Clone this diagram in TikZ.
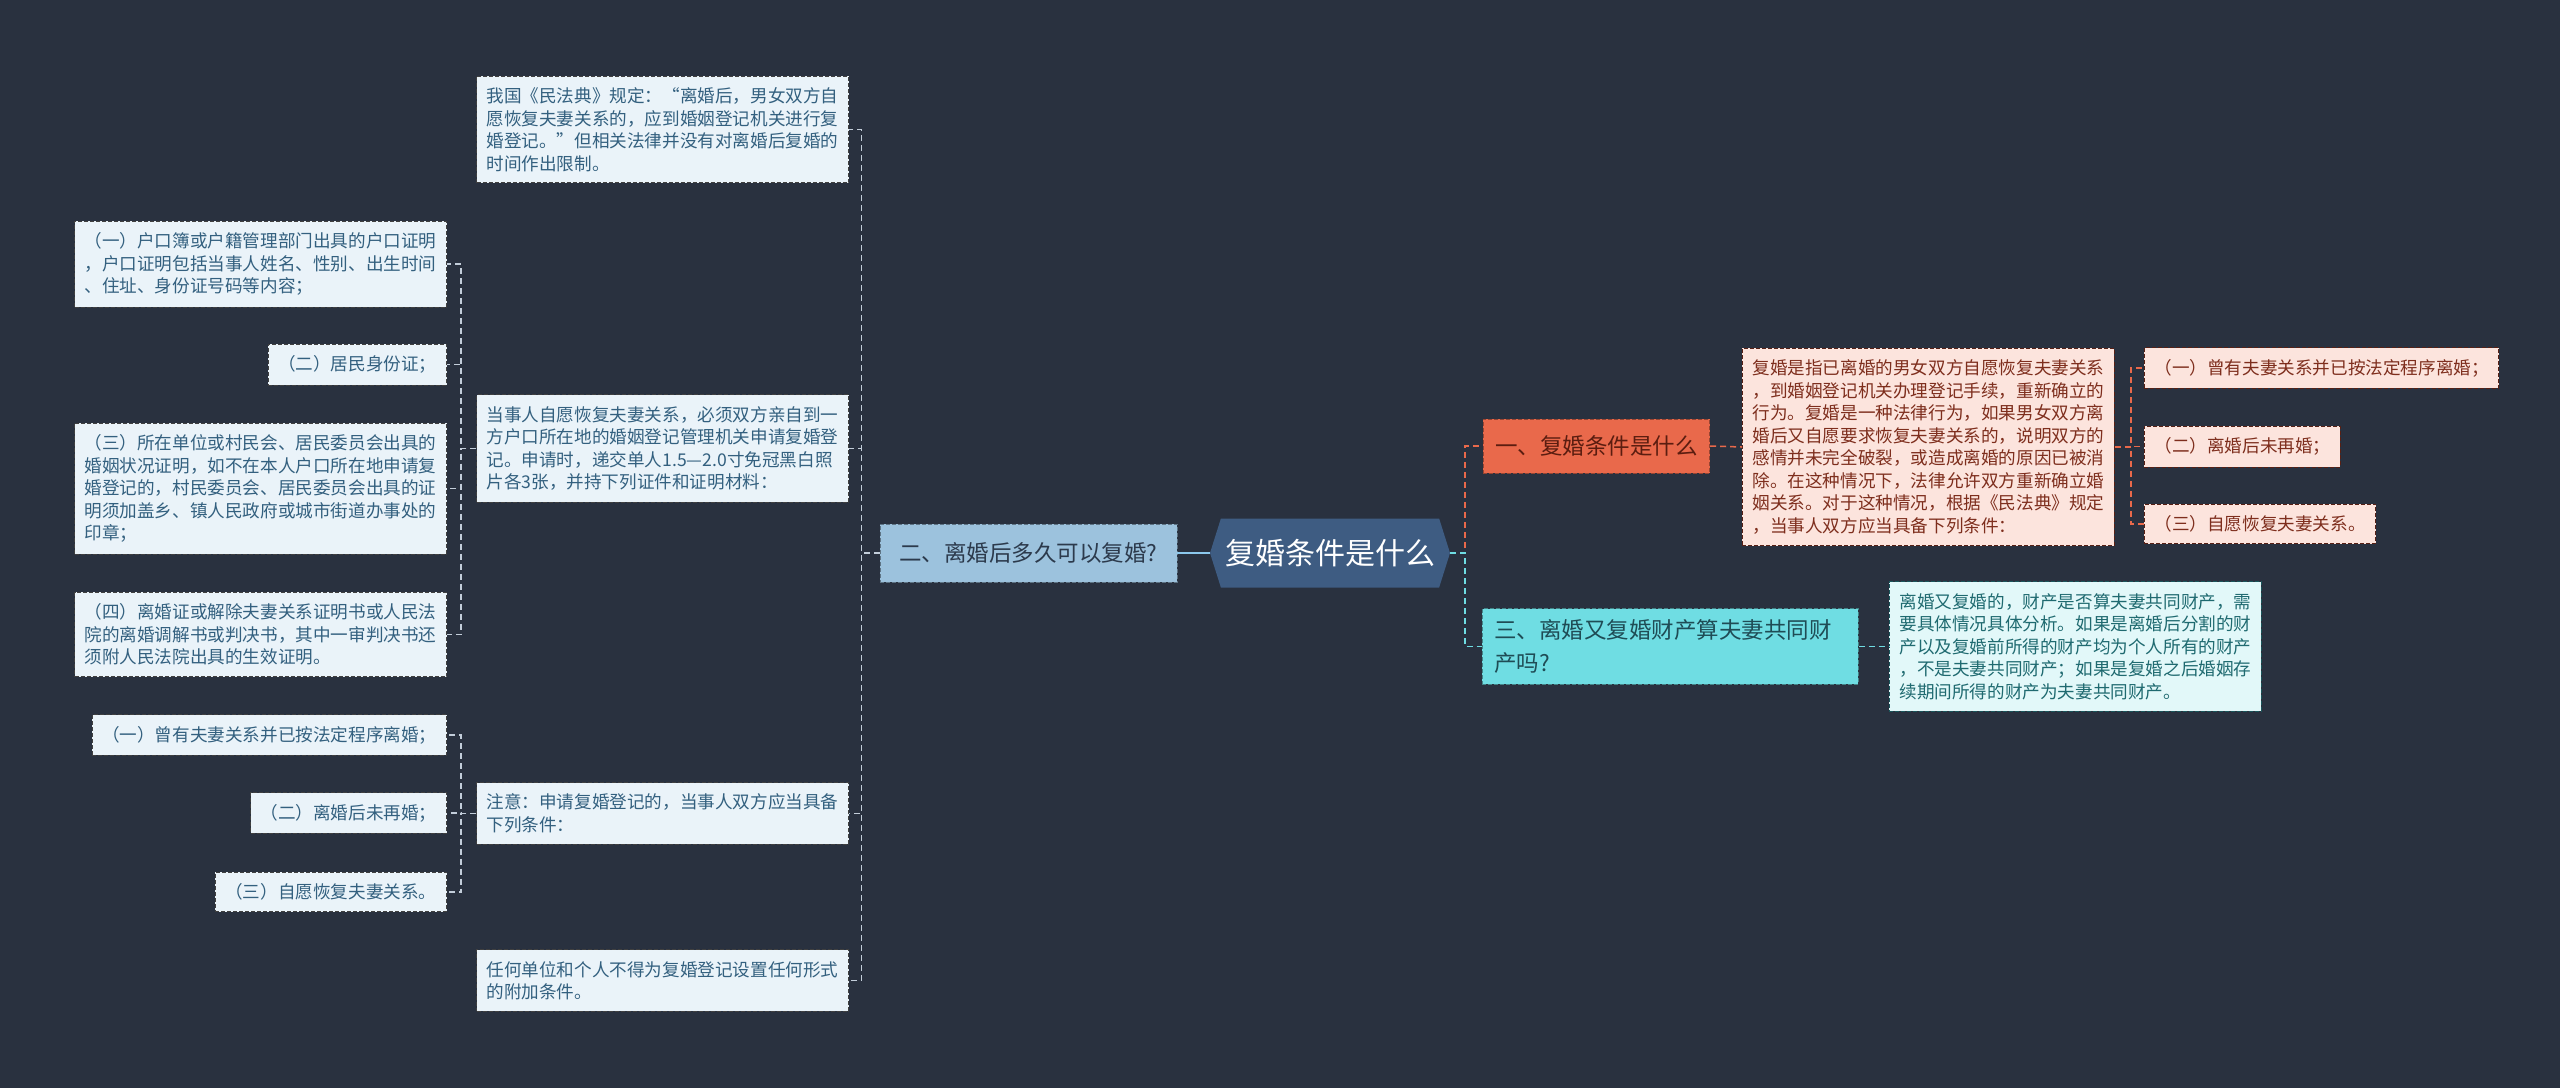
\documentclass[tikz,border=0pt]{standalone}
\usepackage{fontspec}
\setmainfont{Noto Sans CJK SC}
\usepackage{xcolor}
\usepackage{tikz}
\usetikzlibrary{shapes.symbols}

\definecolor{bg}{HTML}{29313F}
\definecolor{hubfill}{HTML}{3E5C82}
\definecolor{twofill}{HTML}{9CC2DD}
\definecolor{twotext}{HTML}{2C3A4C}
\definecolor{leaffill}{HTML}{EAF3F9}
\definecolor{leaftext}{HTML}{33607F}
\definecolor{onefill}{HTML}{E9694B}
\definecolor{onetext}{HTML}{5B1D10}
\definecolor{pinkfill}{HTML}{FCE4DD}
\definecolor{pinktext}{HTML}{7E2E1D}
\definecolor{threefill}{HTML}{6FDDE3}
\definecolor{threetext}{HTML}{1F4C55}
\definecolor{cyanfill}{HTML}{E2F8F9}
\definecolor{cyantext}{HTML}{1F6A70}
\definecolor{greylink}{HTML}{C3CEDA}
\definecolor{bluelink}{HTML}{8CC8EC}

\begin{document}
\begin{tikzpicture}[x=1pt, y=-1pt,
    box/.style={draw=#1, dash pattern=on 4pt off 2pt, line width=0.9pt, align=left,
        inner xsep=10pt, inner ysep=11.5pt, font=\fontsize{17.6}{22.5}\selectfont},
    leaf/.style={box=black!75, fill=leaffill, text=leaftext},
    pinkbox/.style={box=pinktext!70!black, fill=pinkfill, text=pinktext},
    cyanbox/.style={box=cyantext!80!black, fill=cyanfill, text=cyantext},
    topic/.style={draw=#1, dash pattern=on 4pt off 2pt, line width=0.9pt,
        inner xsep=12pt, font=\fontsize{22.5}{32.5}\selectfont},
    hub/.style={shape=signal, signal to=west and east, signal pointer angle=145,
        fill=hubfill, text=white, minimum width=240pt, minimum height=69pt,
        inner xsep=4pt, font=\fontsize{30}{36}\selectfont},
    greylink/.style={draw=greylink, line width=1.5pt, dash pattern=on 6pt off 4pt},
    orangelink/.style={draw=onefill, line width=1.5pt, dash pattern=on 6pt off 4pt},
    cyanlink/.style={draw=threefill, line width=1.5pt, dash pattern=on 6pt off 4pt},
]
    % Background
    \fill[bg] (0,0) rectangle (2560,1088);
    \useasboundingbox (0,0) rectangle (2560,1088);
    % Centre
    \node[hub] (hub) at (1330,553) {复婚条件是什么};
    % Left branch
    \node[topic=twofill!60!black, fill=twofill, text=twotext, minimum width=297pt,
        minimum height=58pt] (two) at (1028.5,553) {二、离婚后多久可以复婚?};
    \node[leaf, anchor=east] (law) at (849,129.5)
        {我国《民法典》规定：“离婚后，男女双方自\\愿恢复夫妻关系的，应到婚姻登记机关进行复\\婚登记。”但相关法律并没有对离婚后复婚的\\时间作出限制。};
    \node[leaf, anchor=east] (apply) at (849,448.5)
        {当事人自愿恢复夫妻关系，必须双方亲自到一\\方户口所在地的婚姻登记管理机关申请复婚登\\记。申请时，递交单人1.5—2.0寸免冠黑白照\\片各3张，并持下列证件和证明材料：};
    \node[leaf, anchor=east] (note) at (849,813.5)
        {注意：申请复婚登记的，当事人双方应当具备\\下列条件：};
    \node[leaf, anchor=east] (none) at (849,980.5)
        {任何单位和个人不得为复婚登记设置任何形式\\的附加条件。};
    % Documents to bring
    \node[leaf, anchor=east] (hukou) at (447,264)
        {（一）户口簿或户籍管理部门出具的户口证明\\，户口证明包括当事人姓名、性别、出生时间\\、住址、身份证号码等内容；};
    \node[leaf, anchor=east] (idcard) at (447,364.5) {（二）居民身份证；};
    \node[leaf, anchor=east] (proof) at (447,488.5)
        {（三）所在单位或村民会、居民委员会出具的\\婚姻状况证明，如不在本人户口所在地申请复\\婚登记的，村民委员会、居民委员会出具的证\\明须加盖乡、镇人民政府或城市街道办事处的\\印章；};
    \node[leaf, anchor=east] (cert) at (447,634.5)
        {（四）离婚证或解除夫妻关系证明书或人民法\\院的离婚调解书或判决书，其中一审判决书还\\须附人民法院出具的生效证明。};
    % Conditions (left)
    \node[leaf, anchor=east] (condA) at (447,735) {（一）曾有夫妻关系并已按法定程序离婚；};
    \node[leaf, anchor=east] (condB) at (447,813) {（二）离婚后未再婚；};
    \node[leaf, anchor=east] (condC) at (447,892) {（三）自愿恢复夫妻关系。};
    % Right branch
    \node[topic=onefill!65!black, fill=onefill, text=onetext, minimum height=54pt]
        (one) at (1596.5,446) {一、复婚条件是什么};
    \node[pinkbox, anchor=west] (basis) at (1742,447)
        {复婚是指已离婚的男女双方自愿恢复夫妻关系\\，到婚姻登记机关办理登记手续，重新确立的\\行为。复婚是一种法律行为，如果男女双方离\\婚后又自愿要求恢复夫妻关系的，说明双方的\\感情并未完全破裂，或造成离婚的原因已被消\\除。在这种情况下，法律允许双方重新确立婚\\姻关系。对于这种情况，根据《民法典》规定\\，当事人双方应当具备下列条件：};
    \node[pinkbox, anchor=west] (rA) at (2144,368) {（一）曾有夫妻关系并已按法定程序离婚；};
    \node[pinkbox, anchor=west] (rB) at (2144,446.5) {（二）离婚后未再婚；};
    \node[pinkbox, anchor=west] (rC) at (2144,524) {（三）自愿恢复夫妻关系。};
    \node[topic=threefill!60!black, fill=threefill, text=threetext, align=left,
        text width=352pt, inner ysep=11pt, anchor=west] (three) at (1482,646.5)
        {三、离婚又复婚财产算夫妻共同财\\产吗?};
    \node[cyanbox, anchor=west] (money) at (1889,646.5)
        {离婚又复婚的，财产是否算夫妻共同财产，需\\要具体情况具体分析。如果是离婚后分割的财\\产以及复婚前所得的财产均为个人所有的财产\\，不是夫妻共同财产；如果是复婚之后婚姻存\\续期间所得的财产为夫妻共同财产。};
    % Connectors
    \draw[bluelink, line width=2pt] (hub.west) -- (two.east);
    \foreach \c in {law,apply,note,none}
        \draw[greylink] (two.west) -- ++(-18,0) |- (\c.east);
    \foreach \c in {hukou,idcard,proof,cert}
        \draw[greylink] (apply.west) -- ++(-15,0) |- (\c.east);
    \foreach \c in {condA,condB,condC}
        \draw[greylink] (note.west) -- ++(-15,0) |- (\c.east);
    \draw[orangelink] (hub.east) -- ++(15,0) |- (one.west);
    \draw[cyanlink] (hub.east) -- ++(15,0) |- (three.west);
    \draw[orangelink] (one.east) -- (basis.west);
    \foreach \c in {rA,rB,rC}
        \draw[orangelink] (basis.east) -- ++(16,0) |- (\c.west);
    \draw[cyanlink] (three.east) -- (money.west);
\end{tikzpicture}
\end{document}
